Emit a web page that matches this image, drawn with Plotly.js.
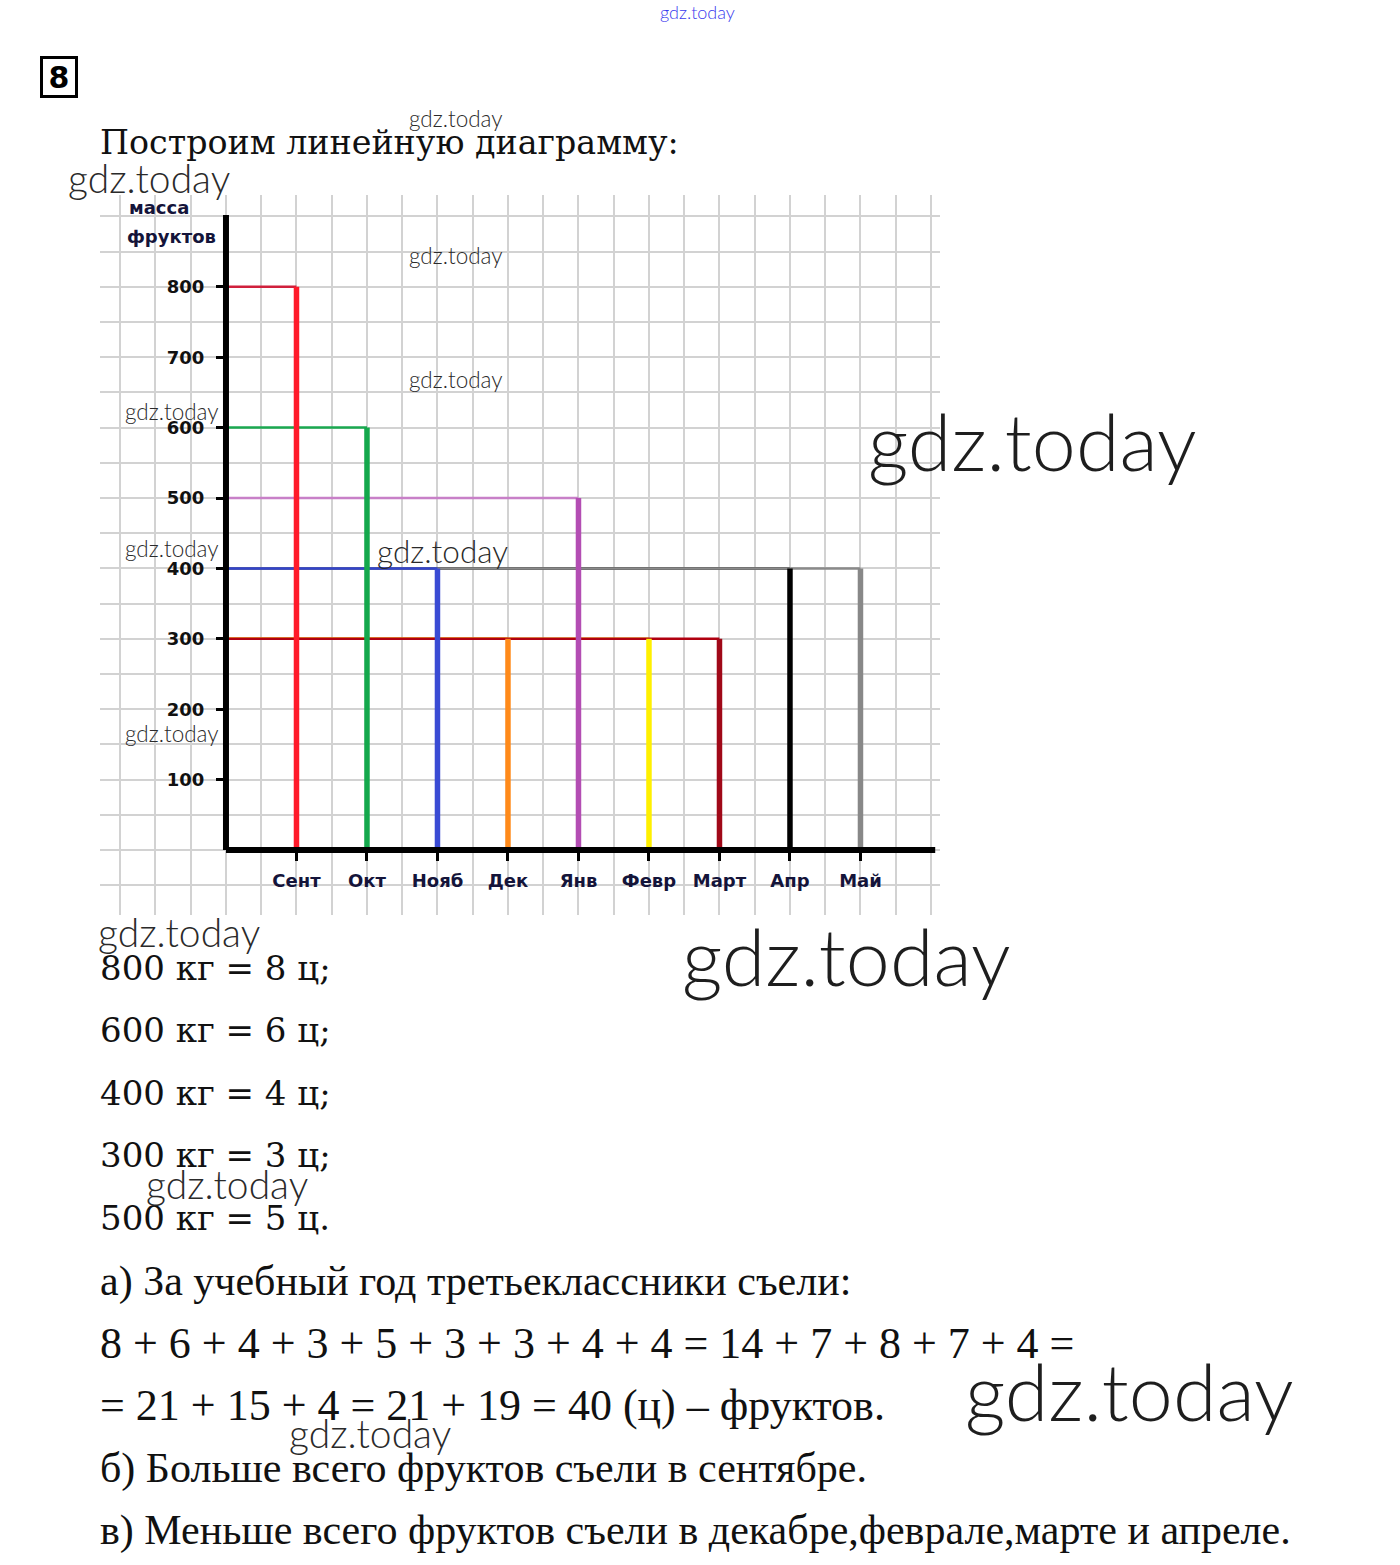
<!DOCTYPE html>
<html>
<head>
<meta charset="utf-8">
<script src="https://cdn.plot.ly/plotly-3.0.1.min.js"></script>
<style>
  html, body { margin: 0; padding: 0; background: #ffffff; }
  #chart { width: 1400px; height: 1565px; }
</style>
</head>
<body>
<div id="chart"></div>
<script>
// ---------- data ----------
const months = ["Сент", "Окт", "Нояб", "Дек", "Янв", "Февр", "Март", "Апр", "Май"];
const monthPos = [1, 2, 3, 4, 5, 6, 7, 8, 9];
const massKg = [800, 600, 400, 300, 500, 300, 300, 400, 400];
const yTickVals = [100, 200, 300, 400, 500, 600, 700, 800];
const yTickText = ["100", "200", "300", "400", "500", "600", "700", "800"];

// ---------- styles ----------
const vColors = ["#ff1a2a", "#14a84c", "#3a4bd4", "#ff8a1a", "#b34db3", "#fff000", "#a00818", "#000000", "#888888"];
const hColors = ["#d0203c", "#1aa850", "#3344cc", "#ff8c1a", "#c880c8", "#ffee00", "#b00010", "#000000", "#8a8a8a"];
const hDrawOrder = [7, 8, 0, 1, 2, 3, 5, 6, 4];

const W = 1400, H = 1565;
const fx = px => px / W;
const fy = py => 1 - py / H;

const traces = [];
// horizontal guide lines from the value axis to each month
hDrawOrder.forEach(i => {
  traces.push({
    type: "scatter", mode: "lines",
    x: [0, monthPos[i]], y: [massKg[i], massKg[i]],
    line: { color: hColors[i], width: 2.5 },
    hoverinfo: "skip"
  });
});
// vertical lines for each month
months.forEach((m, i) => {
  traces.push({
    type: "scatter", mode: "lines",
    x: [monthPos[i], monthPos[i]], y: [0, massKg[i]],
    line: { color: vColors[i], width: 5.5 },
    hoverinfo: "skip"
  });
});

const gridCol = "#d2d2d2";
const labelFont = { family: "DejaVu Sans", size: 18, color: "#14143a", weight: "bold" };

function ann(text, px, py, size, extra) {
  return Object.assign({
    text: text, xref: "paper", yref: "paper",
    x: fx(px), y: fy(py), xanchor: "left", yanchor: "middle",
    showarrow: false,
    font: { family: "DejaVu Serif", size: size, color: "#111111" }
  }, extra || {});
}
function wm(px, py, size, color) {
  return {
    text: "gdz.today", xref: "paper", yref: "paper",
    x: fx(px), y: fy(py), xanchor: "left", yanchor: "middle", showarrow: false,
    font: { family: "Lato, 'Open Sans', sans-serif", size: size, color: color || "#2a2a2a", weight: 300 }
  };
}
const serifA = { family: "Liberation Serif", size: 42, color: "#111111" };
const serifB = { family: "Liberation Serif", size: 44, color: "#111111" };

const annotations = [
  // boxed task number
  { text: "<b>8</b>", xref: "paper", yref: "paper", x: fx(59), y: fy(77),
    xanchor: "center", yanchor: "middle", showarrow: false,
    font: { family: "DejaVu Sans", size: 30, color: "#000" },
    width: 32, height: 36, borderwidth: 3, bordercolor: "#000", borderpad: 0, bgcolor: "#fff" },
  ann("Построим линейную диаграмму:", 98, 142, 33.3),
  // axis title
  { text: "<b>масса</b>", xref: "paper", yref: "paper", x: fx(127), y: fy(207), xanchor: "left", yanchor: "middle", showarrow: false, font: labelFont },
  { text: "<b>фруктов</b>", xref: "paper", yref: "paper", x: fx(125), y: fy(236), xanchor: "left", yanchor: "middle", showarrow: false, font: labelFont },
  ann("800 кг = 8 ц;", 98, 968, 34),
  ann("600 кг = 6 ц;", 98, 1030, 34),
  ann("400 кг = 4 ц;", 98, 1093, 34),
  ann("300 кг = 3 ц;", 98, 1155, 34),
  ann("500 кг = 5 ц.", 98, 1218, 34),
  ann("а) За учебный год третьеклассники съели:", 98, 1281, 42, { font: serifA }),
  ann("8 + 6 + 4 + 3 + 5 + 3 + 3 + 4 + 4 = 14 + 7 + 8 + 7 + 4 =", 98, 1343, 44, { font: serifB }),
  ann("= 21 + 15 + 4 = 21 + 19 = 40 (ц) – фруктов.", 98, 1405, 44, { font: serifB }),
  ann("б) Больше всего фруктов съели в сентябре.", 98, 1468, 42, { font: serifA }),
  ann("в) Меньше всего фруктов съели в декабре,феврале,марте и апреле.", 98, 1530, 42, { font: serifA }),
  // watermarks
  wm(658, 12, 18, "#3a3aee"),
  wm(407, 119, 22.5), wm(66, 178, 39),
  wm(407, 255, 22.5), wm(407, 379, 22.5),
  wm(123, 411, 22.5), wm(123, 549, 22.5), wm(123, 733, 22.5),
  wm(375, 551, 31.5),
  wm(866, 440, 79, "#1e1e1e"),
  wm(96, 932, 39), wm(680, 955, 79, "#1e1e1e"),
  wm(144, 1184, 39), wm(963, 1390, 79, "#1e1e1e"),
  wm(287, 1433, 39)
];

const AXIS_X_END = 10.06, AXIS_Y_END = 902;
const shapes = [
  { type: "line", xref: "x", yref: "y", x0: 0, x1: AXIS_X_END, y0: 0, y1: 0, line: { color: "#000", width: 6 }, layer: "above" },
  { type: "line", xref: "x", yref: "y", x0: 0, x1: 0, y0: 0, y1: AXIS_Y_END, line: { color: "#000", width: 6 }, layer: "above" }
];

const layout = {
  width: W, height: H,
  margin: { l: 0, r: 0, t: 0, b: 0 },
  paper_bgcolor: "#ffffff", plot_bgcolor: "#ffffff",
  showlegend: false, hovermode: false,
  xaxis: {
    domain: [fx(100), fx(940)],
    range: [-1.787, 10.128],
    anchor: "free", position: fy(850),
    tickmode: "array", tickvals: monthPos, ticktext: months,
    ticks: "outside", ticklen: 10, tickwidth: 3, tickcolor: "#000",
    tickfont: labelFont, ticklabelstandoff: 4,
    showgrid: true, gridcolor: gridCol, gridwidth: 2,
    minor: { tickmode: "linear", tick0: 0, dtick: 0.5, showgrid: true, gridcolor: gridCol, gridwidth: 2, ticks: "" },
    zeroline: false, showline: false, fixedrange: true
  },
  yaxis: {
    domain: [fy(915), fy(195)],
    range: [-92.3, 930.4],
    anchor: "free", position: fx(226),
    tickmode: "array", tickvals: yTickVals, ticktext: yTickText,
    ticks: "outside", ticklen: 10, tickwidth: 3, tickcolor: "#000",
    tickfont: { family: "DejaVu Sans", size: 18, color: "#111", weight: "bold" }, ticklabelstandoff: 8,
    showgrid: true, gridcolor: gridCol, gridwidth: 2,
    minor: { tickmode: "linear", tick0: 0, dtick: 50, showgrid: true, gridcolor: gridCol, gridwidth: 2, ticks: "" },
    zeroline: false, showline: false, fixedrange: true
  },
  annotations: annotations,
  shapes: shapes
};

Plotly.newPlot("chart", traces, layout, { staticPlot: true, displayModeBar: false });
</script>
</body>
</html>
